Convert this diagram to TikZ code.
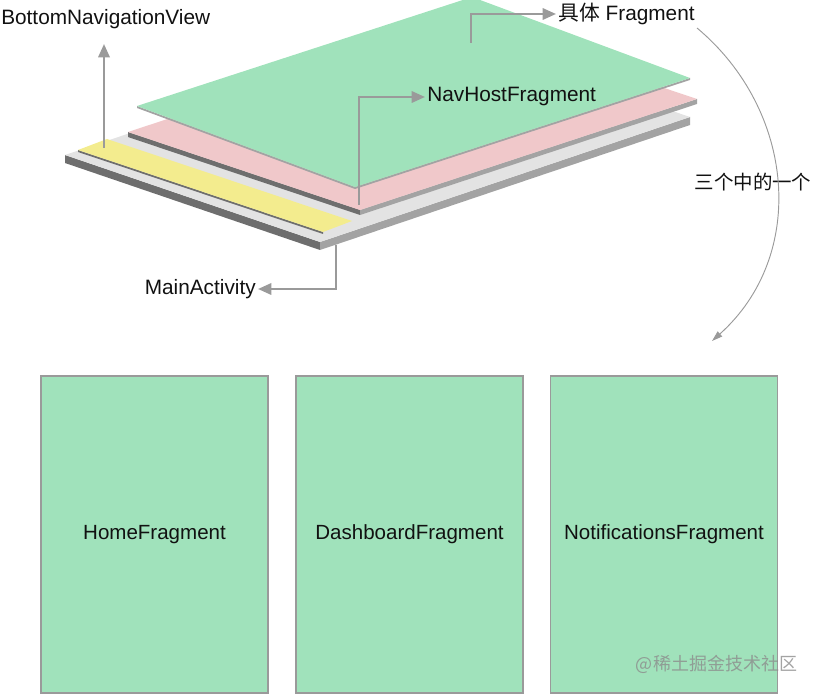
\documentclass[tikz,border=0pt]{standalone}
\usepackage{fontspec}
\setmainfont{Liberation Sans}
\newfontfamily\cjk{Noto Sans CJK SC}
\usetikzlibrary{arrows.meta}
\definecolor{plgreen}{HTML}{A0E2BB}
\definecolor{plpink}{HTML}{F0C8CA}
\definecolor{plyellow}{HTML}{F3EC8E}
\definecolor{pltop}{HTML}{E3E3E3}
\definecolor{pldark}{HTML}{6E6E6E}
\definecolor{plmid}{HTML}{A3A3A3}
\definecolor{argray}{HTML}{9A9A9A}
\definecolor{txt}{HTML}{111111}
\tikzset{
  lbl/.style={text=txt, inner sep=1.5pt, font=\fontsize{15.6}{18}\selectfont},
  arr/.style={draw=argray, line width=1.7pt, -{Triangle[length=10pt,width=8.5pt]}},
  thinarr/.style={draw=argray, line width=0.7pt, -{Triangle[length=8pt,width=5pt]}},
  fragbox/.style={draw=argray, line width=0.8pt, fill=plgreen, minimum width=170.25pt,
    minimum height=237.75pt, text=txt, font=\fontsize{15.4}{18}\selectfont},
}
\begin{document}
\begin{tikzpicture}[x=0.75pt,y=-0.75pt]
\useasboundingbox (0,0) rectangle (814,695);
% ---- gray base plate (MainActivity)
\fill[pldark] (65,155) -- (320,242) -- (320,250) -- (65,163) -- cycle;
\fill[plmid] (320,242) -- (690,117) -- (690,125) -- (320,250) -- cycle;
\fill[pltop] (65,155) -- (320,242) -- (690,117) -- (435,30) -- cycle;
% ---- yellow strip (BottomNavigationView)
\fill[pldark] (78,150) -- (323,232) -- (323,234) -- (78,152) -- cycle;
\fill[plyellow] (78,150) -- (323,232) -- (352,221) -- (107,139) -- cycle;
% ---- pink plate (NavHostFragment)
\fill[pldark] (128,132) -- (360,210) -- (360,215) -- (128,137) -- cycle;
\fill[plmid] (360,210) -- (697,99) -- (697,104) -- (360,215) -- cycle;
\fill[plpink] (128,132) -- (360,210) -- (697,99) -- (465,21) -- cycle;
% ---- green plate (concrete fragment)
\fill[plmid] (137,106) -- (355,187) -- (690,78) -- (690,80) -- (355,189) -- (137,108) -- cycle;
\fill[plgreen] (137,106) -- (355,187) -- (690,78) -- (472,-3) -- cycle;
% ---- labels
\node[lbl, anchor=west] (bnv) at (-1,19) {BottomNavigationView};
\node[lbl, anchor=west] (nh) at (425,97) {NavHostFragment};
\node[lbl, anchor=west] (frag) at (556,14) {{\cjk 具体} Fragment};
\node[lbl, anchor=east] (ma) at (258,289) {MainActivity};
\node[lbl, inner sep=0pt, font=\cjk\fontsize{14.6}{17}\selectfont] (one) at (753,182) {三个中的一个};
% ---- start points
\coordinate (bnvS) at (104,148);
\coordinate (nhS) at (359,205);
\coordinate (fragS) at (471,43);
\coordinate (maS) at (336,245);
\coordinate (curS) at (697,28);
\coordinate (curE) at (712,341);
% ---- arrows
\draw[arr] (bnvS) -- (bnvS |- 0,44);
\draw[arr] (nhS) |- (nh.west);
\draw[arr] (fragS) |- (frag.west);
\draw[arr] (maS) |- (ma.east);
\draw[thinarr] (curS) .. controls (795,110) and (808,255) .. (curE);
% ---- three fragments
\node[fragbox] (home) at (154.5,534.5) {HomeFragment};
\node[fragbox] (dash) at (409.5,534.5) {DashboardFragment};
\node[fragbox] (noti) at (664,534.5) {NotificationsFragment};
% ---- watermark
\node[text=black!45, opacity=0.8, inner sep=0pt, font=\cjk\fontsize{13.5}{16}\selectfont] (wm) at (716.5,664) {@稀土掘金技术社区};
\end{tikzpicture}
\end{document}
